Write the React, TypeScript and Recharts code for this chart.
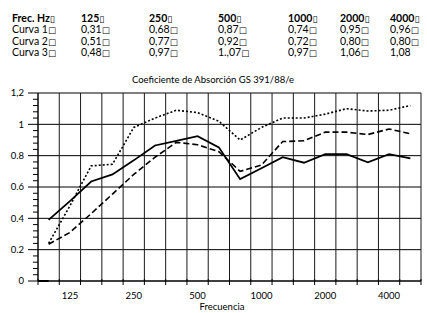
import React from "react";
import { LineChart, Line, XAxis, YAxis, ReferenceLine } from "recharts";

const bands = ["100","125","160","200","250","315","400","500","630","800","1000","1250","1600","2000","2500","3150","4000","5000"];
const curva1 = [0.235, 0.31, 0.43, 0.555, 0.68, 0.79, 0.885, 0.87, 0.825, 0.70, 0.74, 0.89, 0.895, 0.95, 0.95, 0.935, 0.97, 0.94];
const curva2 = [0.39, 0.51, 0.635, 0.68, 0.77, 0.865, 0.895, 0.925, 0.853, 0.65, 0.72, 0.79, 0.755, 0.81, 0.81, 0.757, 0.81, 0.783];
const curva3 = [0.24, 0.48, 0.735, 0.745, 0.98, 1.04, 1.09, 1.075, 1.02, 0.90, 0.98, 1.04, 1.04, 1.065, 1.10, 1.085, 1.09, 1.12];

const xLabelIdx = [1, 4, 7, 10, 13, 16];
const xBoundaries = [-0.5, 0.5, 1.5, 2.5, 3.5, 4.5, 5.5, 6.5, 7.5, 8.5, 9.5, 10.5, 11.5, 12.5, 13.5, 14.5, 15.5, 16.5, 17.5];
const yMajor = [0, 0.2, 0.4, 0.6, 0.8, 1, 1.2];
const yMajorLabels = ["0", "0.2", "0.4", "0.6", "0.8", "1", "1,2"];
const yMinor = [0.04, 0.08, 0.12, 0.16, 0.24, 0.28, 0.32, 0.36, 0.44, 0.48, 0.52, 0.56, 0.64, 0.68, 0.72, 0.76, 0.84, 0.88, 0.92, 0.96, 1.04, 1.08, 1.12, 1.16];

const tableHeader = ["Frec. Hz", "125", "250", "500", "1000", "2000", "4000"];
const tableRows = [
  ["Curva 1", "0,31", "0,68", "0,87", "0,74", "0,95", "0,96"],
  ["Curva 2", "0,51", "0,77", "0,92", "0,72", "0,80", "0,80"],
  ["Curva 3", "0,48", "0,97", "1.,07", "0,97", "1,06", "1,08"],
];
const headerBox = "\u25AF";
const rowBox = "\u25A1";
const tableColX = [12, 81, 149, 218, 288, 340, 390];
const tableRowY = [21.5, 33, 44.5, 56];

const title = "Coeficiente de Absorción GS 391/88/e";
const xTitle = "Frecuencia";

const data = bands.map((b, i) => ({ i, band: b, curva1: curva1[i], curva2: curva2[i], curva3: curva3[i] }));

const FONT = "Lato, 'Open Sans', sans-serif";

const isMajor = (v: number) => yMajor.some((m) => Math.abs(m - v) < 1e-6);

const YTick = (props: any) => {
  const { x, y, payload } = props;
  const v = payload.value;
  const major = isMajor(v);
  const idx = yMajor.findIndex((m) => Math.abs(m - v) < 1e-6);
  return (
    <g>
      <line x1={x - (major ? 10 : 5)} x2={x} y1={y} y2={y} stroke="#000" strokeWidth={1} />
      {major && (
        <text x={x - 14} y={y} dy={3.2} textAnchor="end" fontSize={9.5} fontFamily={FONT} fill="#000">
          {yMajorLabels[idx]}
        </text>
      )}
    </g>
  );
};

const XTick = (props: any) => {
  const { x, y, payload } = props;
  const v = payload.value;
  const li = xLabelIdx.indexOf(v);
  if (li >= 0) {
    return (
      <text x={x} y={y + 18} textAnchor="middle" fontSize={9.5} fontFamily={FONT} fill="#000">
        {bands[v]}
      </text>
    );
  }
  return <line x1={x} x2={x} y1={y - 2} y2={y + 4} stroke="#000" strokeWidth={1} />;
};

export default function App() {
  const allYTicks = [...yMajor, ...yMinor].sort((a, b) => a - b);
  const allXTicks = [...xBoundaries, ...xLabelIdx].sort((a, b) => a - b);
  return (
    <div style={{ position: "absolute", left: 0, top: 0, width: 427, height: 313, background: "#fff", fontFamily: FONT, overflow: "hidden" }}>
      {[tableHeader, ...tableRows].map((row, r) =>
        row.map((cell, c) => {
          const last = r === 3 && c === 6;
          return (
            <div
              key={`${r}-${c}`}
              style={{
                position: "absolute",
                left: tableColX[c],
                top: tableRowY[r] - 10,
                fontSize: 10.5,
                lineHeight: "12px",
                fontWeight: r === 0 ? 700 : 400,
                whiteSpace: "nowrap",
                color: "#000",
              }}
            >
              {cell}
              {!last && (
                <span style={{ fontFamily: "'DejaVu Sans'", fontWeight: 400, fontSize: r === 0 ? 9 : 8.5 }}>
                  {r === 0 ? headerBox : rowBox}
                </span>
              )}
            </div>
          );
        })
      )}
      <div style={{ position: "absolute", left: 213, top: 74, transform: "translateX(-50%)", fontSize: 9.5, lineHeight: "11px", whiteSpace: "nowrap", color: "#000" }}>
        {title}
      </div>
      <div style={{ position: "absolute", top: 302, left: 222, transform: "translateX(-50%)", fontSize: 9.5, lineHeight: "10px", whiteSpace: "nowrap", color: "#000" }}>
        {xTitle}
      </div>
      <div style={{ position: "absolute", left: 0, top: 0 }}>
        <LineChart width={427} height={313} data={data} margin={{ top: 93, right: 6, bottom: 0, left: 0 }}>
          <XAxis
            dataKey="i"
            type="number"
            domain={[-0.5, 17.5]}
            ticks={allXTicks}
            interval={0}
            height={32}
            tickSize={0}
            tickMargin={0}
            tickLine={false}
            axisLine={{ stroke: "#000" }}
            tick={<XTick />}
            allowDataOverflow
          />
          <YAxis
            type="number"
            domain={[0, 1.2]}
            ticks={allYTicks}
            interval={0}
            width={38}
            tickSize={0}
            tickMargin={0}
            tickLine={false}
            axisLine={{ stroke: "#000" }}
            tick={<YTick />}
            allowDataOverflow
          />
          {yMajor.map((v) => (
            <ReferenceLine key={`h${v}`} y={v} stroke="#000" strokeWidth={1} />
          ))}
          {xBoundaries.map((v) => (
            <ReferenceLine key={`v${v}`} x={v} stroke="#1a1a1a" strokeWidth={1} />
          ))}
          <ReferenceLine segment={[{ x: -0.5, y: 0 }, { x: 0, y: 0 }]} stroke="#000" strokeWidth={2} />
          <Line type="linear" dataKey="curva3" stroke="#000" strokeWidth={1.6} strokeDasharray="2 2" dot={false} isAnimationActive={false} />
          <Line type="linear" dataKey="curva1" stroke="#000" strokeWidth={1.6} strokeDasharray="6 3" dot={false} isAnimationActive={false} />
          <Line type="linear" dataKey="curva2" stroke="#000" strokeWidth={1.8} dot={false} isAnimationActive={false} />
        </LineChart>
      </div>
    </div>
  );
}
